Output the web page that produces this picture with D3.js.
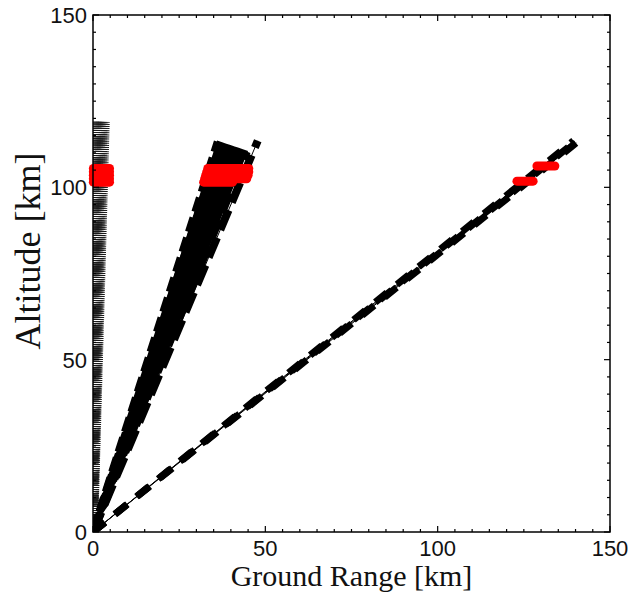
<!DOCTYPE html>
<html><head><meta charset="utf-8">
<script src="https://cdn.jsdelivr.net/npm/d3@7"></script>
<style>body{margin:0;background:#fff;}svg{display:block;}</style>
</head><body>
<script>
// Axis ticks
const xTicks = [0, 50, 100, 150];
const yTicks = [0, 50, 100, 150];
const minorStep = 5;

// Fan A (near-vertical beam): ray end points [km]
const fanAX = [0.4, 1.0, 1.6, 2.2, 2.8, 3.4];
const fanAAlt = [119, 119, 119, 119, 119, 119];

// Fan B (middle beam); last ray is the separate outer dashed ray
const fanBX = [36.2, 37.4, 38.6, 39.8, 41.0, 42.2, 43.4, 44.6, 47.8];
const fanBAlt = [113.2, 112.8, 112.4, 112.0, 111.6, 111.2, 110.8, 110.4, 113.5];

// Fan C (low beam)
const fanCX = [139.4, 139.8, 140.2];
const fanCAlt = [113.5, 113.2, 112.9];

// Red detections: horizontal bars (altitude, x start, x end) [km]
const redAlt = [101.5, 102.5, 103.5, 104.5, 105.5,
                101.5, 102.5, 103.5, 104.5, 105.5,
                101.8, 106.2];
const redX0 = [0.1, 0.1, 0.1, 0.1, 0.1,
               32.1, 32.4, 32.7, 33.0, 33.3,
               123.0, 128.8];
const redX1 = [4.8, 4.8, 4.8, 4.8, 4.8,
               40.5, 44.6, 45.0, 45.2, 45.2,
               127.7, 134.0];

const W = 632, H = 594;
const m = {left: 93, right: 22, top: 15, bottom: 62};
const pw = W - m.left - m.right, ph = H - m.top - m.bottom;

const svg = d3.select("body").append("svg").attr("width", W).attr("height", H);
const x = d3.scaleLinear().domain([0, 150]).range([m.left, m.left + pw]);
const y = d3.scaleLinear().domain([0, 150]).range([m.top + ph, m.top]);

svg.append("clipPath").attr("id", "clip").append("rect")
  .attr("x", m.left).attr("y", m.top).attr("width", pw).attr("height", ph);
const g = svg.append("g").attr("clip-path", "url(#clip)");

// Fan A: hatched rays
g.selectAll(".fa").data(fanAX).join("line")
  .attr("x1", x(0)).attr("y1", y(0))
  .attr("x2", d => x(d)).attr("y2", (d, i) => y(fanAAlt[i]))
  .attr("stroke", "#1a1a1a").attr("stroke-width", 10)
  .attr("stroke-dasharray", "1,1.1");

// Fan B: solid wedge between inner rays, plus thick dashed rays
const wedge = [[0, 0]].concat(fanBX.slice(0, -1).map((d, i) => [d, fanBAlt[i]]));
g.append("path")
  .attr("d", d3.line().x(d => x(d[0])).y(d => y(d[1]))(wedge) + "Z")
  .attr("fill", "#000").attr("stroke", "#000").attr("stroke-width", 2);
g.selectAll(".fbt").data(fanBX).join("line")
  .attr("x1", x(0)).attr("y1", y(0))
  .attr("x2", d => x(d)).attr("y2", (d, i) => y(fanBAlt[i]))
  .attr("stroke", "#000").attr("stroke-width", 1);
g.selectAll(".fb").data(fanBX).join("line")
  .attr("x1", x(0)).attr("y1", y(0))
  .attr("x2", d => x(d)).attr("y2", (d, i) => y(fanBAlt[i]))
  .attr("stroke", "#000").attr("stroke-width", 8)
  .attr("stroke-dasharray", (d, i) => `${15 + i * 0.8},${6 + i * 0.3}`);

// Fan C: thin line + thick dashes
g.selectAll(".fct").data(fanCX).join("line")
  .attr("x1", x(0)).attr("y1", y(0))
  .attr("x2", d => x(d)).attr("y2", (d, i) => y(fanCAlt[i]))
  .attr("stroke", "#000").attr("stroke-width", 1);
g.selectAll(".fc").data(fanCX).join("line")
  .attr("x1", x(0)).attr("y1", y(0))
  .attr("x2", d => x(d)).attr("y2", (d, i) => y(fanCAlt[i]))
  .attr("stroke", "#000").attr("stroke-width", 7)
  .attr("stroke-dasharray", (d, i) => `${15 + i * 0.2},${13 + i * 0.2}`);

// Red detections (not clipped: they spill slightly past the left axis)
svg.append("g").selectAll("line").data(redAlt).join("line")
  .attr("x1", (d, i) => x(redX0[i])).attr("x2", (d, i) => x(redX1[i]))
  .attr("y1", d => y(d)).attr("y2", d => y(d))
  .attr("stroke", "#ff0000").attr("stroke-width", 9)
  .attr("stroke-linecap", "round");

// Frame
svg.append("rect").attr("x", m.left).attr("y", m.top).attr("width", pw).attr("height", ph)
  .attr("fill", "none").attr("stroke", "#000").attr("stroke-width", 1.5);

// Ticks (inward) on all four sides
const minors = d3.range(0, 151, minorStep);
const tickLen = v => (v % 50 === 0 ? 6 : 3);
const tg = svg.append("g").attr("stroke", "#000").attr("stroke-width", 1.2);
minors.forEach(v => {
  const L = tickLen(v);
  tg.append("line").attr("x1", x(v)).attr("x2", x(v)).attr("y1", y(0)).attr("y2", y(0) - L);
  tg.append("line").attr("x1", x(v)).attr("x2", x(v)).attr("y1", y(150)).attr("y2", y(150) + L);
  tg.append("line").attr("y1", y(v)).attr("y2", y(v)).attr("x1", x(0)).attr("x2", x(0) + L);
  tg.append("line").attr("y1", y(v)).attr("y2", y(v)).attr("x1", x(150)).attr("x2", x(150) - L);
});

// Tick labels
const labFont = "'Liberation Sans', Arial, sans-serif";
svg.append("g").selectAll("text").data(xTicks).join("text")
  .attr("x", d => x(d)).attr("y", y(0) + 24).attr("text-anchor", "middle")
  .attr("font-family", labFont).attr("font-size", "22px").attr("fill", "#111")
  .text(d => d);
svg.append("g").selectAll("text").data(yTicks).join("text")
  .attr("x", x(0) - 6).attr("y", d => y(d) + 8).attr("text-anchor", "end")
  .attr("font-family", labFont).attr("font-size", "22px").attr("fill", "#111")
  .text(d => d);

// Axis titles
svg.append("text").attr("x", x(75)).attr("y", 586).attr("text-anchor", "middle")
  .attr("font-family", "'Liberation Serif', 'Times New Roman', serif").attr("font-size", "30px")
  .attr("fill", "#111").text("Ground Range [km]");
svg.append("text").attr("transform", `translate(40,${251}) rotate(-90)`).attr("text-anchor", "middle")
  .attr("font-family", "'Liberation Serif', 'Times New Roman', serif").attr("font-size", "36px")
  .attr("fill", "#111").text("Altitude [km]");
</script>
</body></html>
